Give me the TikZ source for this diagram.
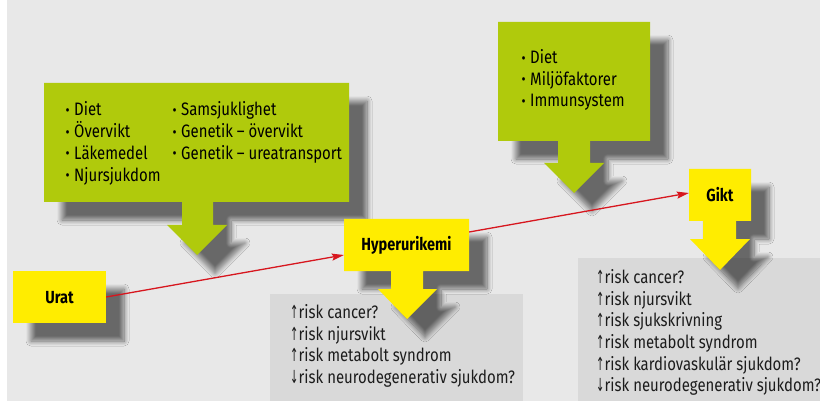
\documentclass[tikz,border=0pt]{standalone}
\usepackage{fontspec}
\setmainfont{Fira Sans}[FakeStretch=0.83]
\newfontfamily\arrowfont{DejaVu Sans}[FakeStretch=0.55]
\usetikzlibrary{arrows.meta,shadows.blur}
\definecolor{bg}{RGB}{232,232,232}
\definecolor{lime}{RGB}{176,202,12}
\definecolor{yel}{RGB}{255,237,0}
\definecolor{infogray}{RGB}{217,217,217}
\definecolor{redline}{RGB}{215,22,30}
\definecolor{txtgray}{RGB}{28,28,28}
\newcommand{\mybul}{\makebox[8.5pt][l]{\fontsize{15}{15}\selectfont\raisebox{0.6pt}{•}}}
\newcommand{\riskup}{\makebox[8.5pt][l]{\arrowfont ↑}}
\newcommand{\riskdown}{\makebox[8.5pt][l]{\arrowfont ↓}}
\begin{document}
\begin{tikzpicture}[x=1pt,y=-1pt,
  callout shadow/.style={blur shadow={shadow xshift=18pt, shadow yshift=-18pt,
      shadow blur radius=5pt, shadow blur steps=10, shadow opacity=55}},
  listtext/.style={align=left, inner sep=0pt, anchor=base west,
      font=\fontsize{18}{21.7}\selectfont},
  labelbox/.style={inner sep=0pt, text height=12pt, text depth=0pt,
      font=\bfseries\fontsize{17.5}{20}\selectfont},
  redarrow/.style={draw=redline, line width=1.3pt,
      -{Stealth[length=12pt,width=7pt,inset=2pt]}}]
 \useasboundingbox (0,0) rectangle (820,401);
 \fill[white] (0,0) rectangle (820,401);
 \fill[bg] (7,0) rectangle (820,401);
 % info boxes
 \fill[infogray] (270,294) rectangle (523,401);
 \fill[infogray] (578,258) rectangle (820,401);
 % callouts
 \fill[lime, callout shadow] (44,83) -- (349,83) -- (349,202) -- (213,202) -- (213,225)
   -- (227,225) -- (197,255) -- (167,225) -- (182,225) -- (182,202) -- (44,202) -- cycle;
 \fill[lime, callout shadow] (498,22) -- (650,22) -- (650,141) -- (590,141) -- (590,163)
   -- (604,163) -- (574,193) -- (544,163) -- (558,163) -- (558,141) -- (498,141) -- cycle;
 \fill[yel, callout shadow] (344,219) -- (469,219) -- (469,271) -- (423,271) -- (423,289)
   -- (437,289) -- (407,319) -- (378,289) -- (391,289) -- (391,271) -- (344,271) -- cycle;
 \fill[yel, callout shadow] (689,169) -- (751,169) -- (751,221) -- (736,221) -- (736,239)
   -- (750,239) -- (720,270) -- (690,239) -- (703,239) -- (703,221) -- (689,221) -- cycle;
 \fill[yel, callout shadow] (13,271) rectangle (106,323);
 % labels
 \node[labelbox, minimum width=93pt, minimum height=52pt] (urat) at (59.5,297) {Urat};
 \node[labelbox, minimum width=125pt, minimum height=52pt] (hyp) at (406.5,245) {Hyperurikemi};
 \node[labelbox, minimum width=62pt, minimum height=52pt] (gikt) at (720,195) {Gikt};
 % lists (anchor = baseline of the last line)
 \node[listtext] (orsakA) at (65.5,181.1) {\mybul Diet\\\mybul Övervikt\\\mybul Läkemedel\\\mybul Njursjukdom};
 \node[listtext] (orsakB) at (172.5,159.4) {\mybul Samsjuklighet\\\mybul Genetik – övervikt\\\mybul Genetik – ureatransport};
 \node[listtext, font=\fontsize{18}{21.4}\selectfont] (orsakC) at (521.5,106.8) {\mybul Diet\\\mybul Miljöfaktorer\\\mybul Immunsystem};
 \node[listtext, text=txtgray] (riskA) at (290,383.6) {\riskup risk cancer?\\\riskup risk njursvikt\\\riskup risk metabolt syndrom\\\riskdown risk neurodegenerativ sjukdom?};
 \node[listtext, text=txtgray] (riskB) at (596,391.8) {\riskup risk cancer?\\\riskup risk njursvikt\\\riskup risk sjukskrivning\\\riskup risk metabolt syndrom\\\riskup risk kardiovaskulär sjukdom?\\\riskdown risk neurodegenerativ sjukdom?};
 % connectors
 \draw[redarrow] (urat.east) -- ([yshift=-10pt]hyp.west);
 \draw[redarrow] ([yshift=13pt]hyp.east) -- ([yshift=2pt]gikt.west);
\end{tikzpicture}
\end{document}
